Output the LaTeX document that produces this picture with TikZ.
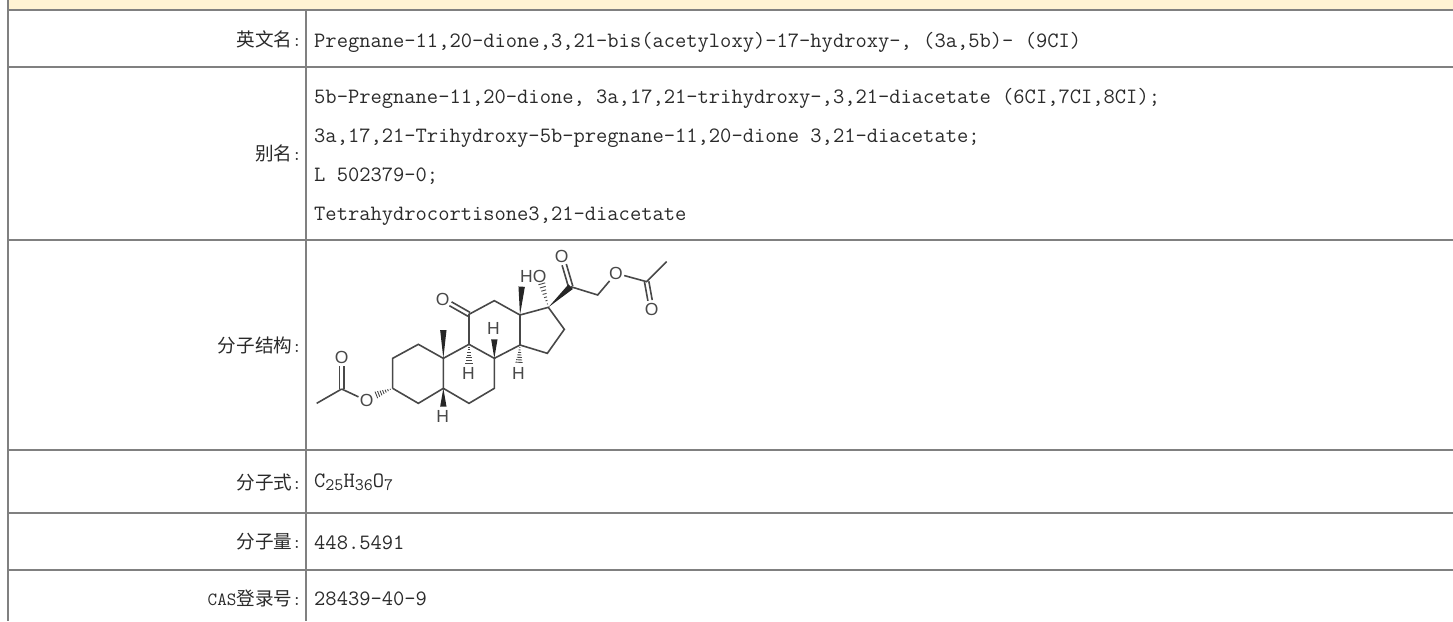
\documentclass[tikz,border=0pt]{standalone}
\usepackage{fontspec}
\newfontfamily\cjk{Noto Sans CJK SC}
\newfontfamily\molfont{Liberation Sans}
\usetikzlibrary{calc}
\definecolor{rule}{HTML}{808080}
\definecolor{band}{HTML}{FFF3D3}
\definecolor{ink}{HTML}{2A2A2A}
\definecolor{molink}{HTML}{484848}
\tikzset{
  rulerline/.style={draw=rule,line width=2pt},
  valtext/.style={anchor=base west,inner sep=0pt,text=ink,font=\ttfamily\fontsize{21.9}{24}\selectfont},
  labtext/.style={anchor=east,inner sep=0pt,text=ink,font=\cjk\fontsize{18.6}{22}\selectfont},
  bond/.style={draw=molink,line width=1.6pt},
  wedge/.style={fill=black!85,draw=none},
  hash/.style={draw=molink,line width=0.9pt},
  atom/.style={inner sep=1.2pt,text=molink,font=\molfont\fontsize{17.5}{18}\selectfont}
}
\newcommand{\dblbond}[2]{%
  \draw[bond,shorten >=9pt] ($(#1)!2.2pt!90:(#2)$) -- ($(#2)!2.2pt!-90:(#1)$);
  \draw[bond,shorten >=9pt] ($(#1)!2.2pt!-90:(#2)$) -- ($(#2)!2.2pt!90:(#1)$);}
\newcommand{\solidwedge}[2]{%
  \fill[wedge] (#1) -- ($(#2)!3.2pt!90:(#1)$) -- ($(#2)!3.2pt!-90:(#1)$) -- cycle;}
\newcommand{\hashwedge}[2]{%
  \foreach \t in {0.14,0.28,0.42,0.56,0.70,0.84,0.98}{%
    \coordinate (hashp) at ($(#1)!\t!(#2)$);
    \draw[hash] ($(hashp)!\t*3.6pt!90:(#1)$) -- ($(hashp)!\t*3.6pt!-90:(#1)$);}}
\newcommand{\subnum}[1]{{\fontsize{17.5}{18}\selectfont\raisebox{-3pt}{#1}}}
\begin{document}
\begin{tikzpicture}[x=1pt,y=-1pt]
\useasboundingbox (0,0) rectangle (1453,621);
% header band and table rules
\fill[band] (8,0) rectangle (1453,10);
\draw[rulerline] (8,0) -- (8,621);
\draw[rulerline] (306,10) -- (306,621);
\foreach \yy in {10,67,239.5,450,513,570}{\draw[rulerline] (7,\yy) -- (1453,\yy);}
% labels
\node[labtext] (l1) at (302,39) {英文名{\ttfamily:}};
\node[labtext] (l2) at (302,153) {别名{\ttfamily:}};
\node[labtext] (l3) at (302,345) {分子结构{\ttfamily:}};
\node[labtext] (l4) at (302,482) {分子式{\ttfamily:}};
\node[labtext] (l5) at (302,542) {分子量{\ttfamily:}};
\node[labtext] (l6) at (302,598) {{\ttfamily CAS}登录号{\ttfamily:}};
% values
\node[valtext] (v1) at (314,47) {Pregnane-11,20-dione,3,21-bis(acetyloxy)-17-hydroxy-, (3a,5b)- (9CI)};
\node[valtext] (v2) at (314,103) {5b-Pregnane-11,20-dione, 3a,17,21-trihydroxy-,3,21-diacetate (6CI,7CI,8CI);};
\node[valtext] (v3) at (314,142) {3a,17,21-Trihydroxy-5b-pregnane-11,20-dione 3,21-diacetate;};
\node[valtext] (v4) at (314,181) {L 502379-0;};
\node[valtext] (v5) at (314,220) {Tetrahydrocortisone3,21-diacetate};
\node[valtext] (v6) at (314,487) {C\subnum{25}H\subnum{36}O\subnum{7}};
\node[valtext] (v7) at (314,549) {448.5491};
\node[valtext] (v8) at (314,605.5) {28439-40-9};
% molecule, coordinates in thirds of a pixel from (300,250)
\begin{scope}[shift={(300pt,-250pt)},x=0.33333pt,y=-0.33333pt]
\coordinate (mea) at (50,460); \coordinate (ca) at (125,417);
\coordinate (c3) at (278,415); \coordinate (c2) at (278,325);
\coordinate (c1) at (355,283); \coordinate (c10) at (430,325);
\coordinate (c5) at (430,415); \coordinate (c4) at (355,460);
\coordinate (c6) at (507,460); \coordinate (c7) at (583,415);
\coordinate (c8) at (583,325); \coordinate (c9) at (507,283);
\coordinate (c11) at (507,193); \coordinate (c12) at (583,152);
\coordinate (c13) at (660,195); \coordinate (c14) at (660,285);
\coordinate (c15) at (742,310); \coordinate (c16) at (793,238);
\coordinate (c17) at (745,172); \coordinate (c20) at (812,110);
\coordinate (c21) at (893,135); \coordinate (cb) at (1040,95);
\coordinate (meb) at (1100,35);
\coordinate (me18) at (665,110); \coordinate (me19) at (430,240);
\coordinate (w8) at (583,268); \coordinate (w5) at (430,470);
\coordinate (h9e) at (507,340); \coordinate (h14e) at (657,338);
\coordinate (hoe) at (725,100); \coordinate (ohe) at (228,435);
\node[atom] (oa) at (125,322) {O};
\node[atom] (oe) at (200,452) {O};
\node[atom] (o11) at (428,148) {O};
\node[atom] (o20) at (785,18) {O};
\node[atom] (of) at (948,70) {O};
\node[atom] (ob) at (1055,178) {O};
\node[atom] (h9) at (505,370) {H};
\node[atom] (h8) at (580,235) {H};
\node[atom] (h14) at (655,370) {H};
\node[atom] (h5) at (428,498) {H};
\node[atom] (ho) at (700,78) {HO};
\draw[bond] (mea) -- (ca);
\draw[bond] (ca) -- (oe);
\draw[bond] (c3) -- (c2) -- (c1) -- (c10) -- (c5) -- (c4) -- (c3);
\draw[bond] (c5) -- (c6) -- (c7) -- (c8) -- (c9) -- (c10);
\draw[bond] (c9) -- (c11) -- (c12) -- (c13) -- (c14) -- (c8);
\draw[bond] (c14) -- (c15) -- (c16) -- (c17) -- (c13);
\draw[bond] (c20) -- (c21) -- (of) -- (cb) -- (meb);
\dblbond{ca}{oa}
\dblbond{c11}{o11}
\dblbond{c20}{o20}
\dblbond{cb}{ob}
\solidwedge{c10}{me19}
\solidwedge{c13}{me18}
\solidwedge{c8}{w8}
\solidwedge{c5}{w5}
\solidwedge{c17}{c20}
\hashwedge{c9}{h9e}
\hashwedge{c14}{h14e}
\hashwedge{c17}{hoe}
\hashwedge{c3}{ohe}
\end{scope}
\end{tikzpicture}
\end{document}
